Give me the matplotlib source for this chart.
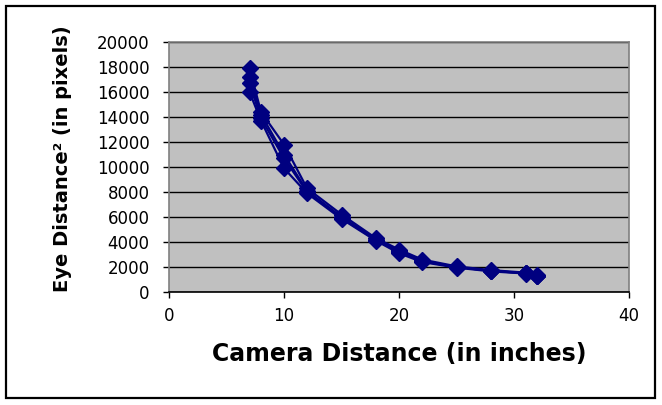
import matplotlib
matplotlib.use("Agg")
import matplotlib.pyplot as plt
from matplotlib.patches import Rectangle

# camera distance (inches) and squared eye distance (pixels) for four runs
camera_dist = [7, 8, 10, 12, 15, 18, 20, 22, 25, 28, 31, 32]
run_a = [17900, 14400, 11800, 8300, 6200, 4300, 3400, 2600, 2050, 1750, 1550, 1350]
run_b = [17200, 14200, 11000, 8100, 6000, 4200, 3300, 2500, 2000, 1700, 1500, 1300]
run_c = [16700, 13900, 10700, 8000, 5950, 4150, 3200, 2450, 2000, 1680, 1520, 1320]
run_d = [16000, 13700, 9900, 7900, 5850, 4100, 3100, 2400, 1950, 1650, 1480, 1280]
runs = [run_a, run_b, run_c, run_d]

xticks = [0, 10, 20, 30, 40]
yticks = list(range(0, 20001, 2000))

navy = "#000080"
plt.rcParams["font.family"] = "DejaVu Sans"

fig = plt.figure(figsize=(6.62, 4.05), dpi=100)
fig.patches.append(Rectangle((0.009, 0.017), 0.980, 0.968, transform=fig.transFigure,
                             fill=False, edgecolor="black", linewidth=1.6))

ax = fig.add_axes([0.2553, 0.279, 0.6949, 0.6173])
ax.set_facecolor("#C0C0C0")

for run in runs:
    ax.plot(camera_dist, run, color=navy, linewidth=1.6, marker="D",
            markersize=8, markerfacecolor=navy, markeredgecolor=navy, zorder=3)

ax.set_xlim(0, 40)
ax.set_ylim(0, 20000)
ax.set_xticks(xticks)
ax.set_yticks(yticks)
ax.yaxis.grid(True, color="black", linewidth=1.0)
ax.set_axisbelow(True)

for side in ["top", "right", "left"]:
    ax.spines[side].set_color("#808080")
ax.spines["bottom"].set_color("black")
for s in ax.spines.values():
    s.set_linewidth(1.2)

ax.tick_params(axis="both", direction="out", length=4, width=1, color="black",
               labelsize=12)
ax.tick_params(axis="y", pad=10)
ax.tick_params(axis="x", pad=7)

ax.set_xlabel("Camera Distance (in inches)", fontsize=17, fontweight="bold")
ax.set_ylabel("Eye Distance² (in pixels)", fontsize=14, fontweight="bold")
ax.xaxis.set_label_coords(0.5, -0.2)
ax.yaxis.set_label_coords(-0.211, 0.532)

fig.savefig("out.png", dpi=100)
